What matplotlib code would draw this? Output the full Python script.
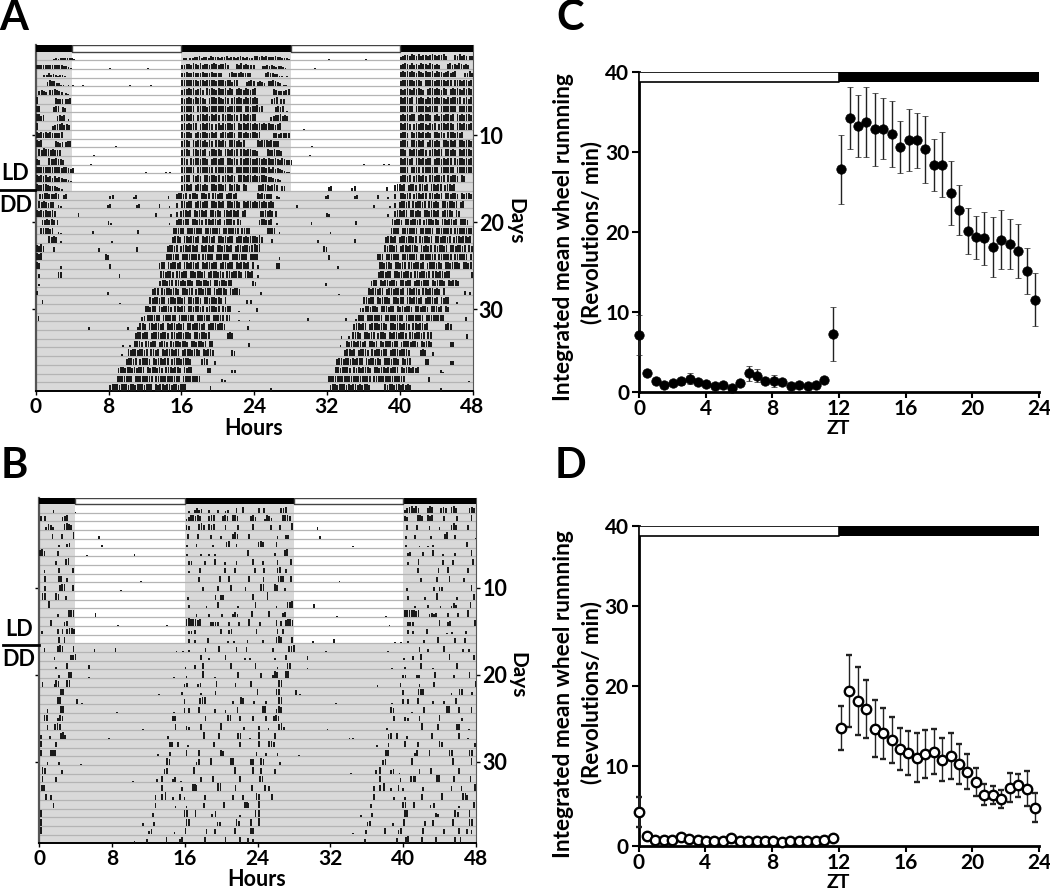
import matplotlib
matplotlib.use('Agg')
import matplotlib.pyplot as plt
import numpy as np

plt.rcParams['font.family'] = ['Lato', 'DejaVu Sans']
plt.rcParams['font.weight'] = 'bold'

FIG_W, FIG_H = 1050, 891

# activity per day: (start hour, heights in 15 min bins, 0-9 = fraction of a row)
days_a = [
    [(1.9, "1212323221"), (16.2, "22"), (16.9, "3344534435444344534434543433")],
    [(0.0, "5545454445443321"), (8.1, "1"), (12.2, "1"), (16.0, "456657657566567656675"), (22.0, "657565"), (23.6, "55")],
    [(0.85, "33534323321"), (6.6, "1"), (16.0, "567657565766576565"), (21.2, "6756576565")],
    [(1.2, "57664422"), (3.5, "201"), (5.1, "1"), (10.3, "1"), (12.6, "1"), (16.0, "7878787687687786877678578"), (23.1, "5686")],
    [(0.3, "5654"), (1.5, "667654"), (3.2, "21"), (16.0, "67787867860878768778687078768767")],
    [(0.0, "8"), (2.1, "7655"), (3.2, "567"), (16.0, "76787687876078878768707878768787")],
    [(0.0, "87"), (1.9, "678"), (2.9, "65"), (16.0, "87887808787687878787687887807868")],
    [(0.0, "8967"), (2.3, "6767"), (3.5, "2"), (16.0, "78878707887868787087887870887878")],
    [(0.0, "8"), (1.8, "567786"), (3.3, "76"), (16.0, "78787880787887078687887808787887")],
    [(0.0, "878787877678"), (5.4, "1"), (16.0, "87887078788768780788788708878778")],
    [(0.0, "878"), (2.1, "7656"), (3.2, "677"), (8.7, "1"), (16.0, "7887087887868708878708887868")],
    [(0.3, "8798878777"), (6.3, "1"), (16.0, "78870887878068878708878780887887")],
    [(0.0, "76"), (1.4, "8778776"), (6.0, "1"), (16.0, "88708788788707887880887870878887")],
    [(0.0, "78878787787687656"), (12.0, "1"), (14.2, "1"), (14.7, "1"), (16.0, "87887808878788078878788087887878")],
    [(0.0, "8787867575654321"), (16.0, "78880878708878878078878708887887")],
    [(0.0, "877887665432"), (16.0, "78878078878708878878087887087")],
    [(0.4, "778876787"), (3.0, "56"), (8.1, "45"), (10.7, "35"), (14.5, "4"), (15.4, "7887807887088780887880788780")],
    [(0.3, "8787677"), (2.4, "43"), (7.8, "45"), (11.0, "45"), (13.5, "5"), (14.6, "3"), (15.4, "6"), (16.0, "88788078878808878780887887087887")],
    [(0.0, "878787787"), (4.6, "4"), (13.1, "4"), (14.8, "3"), (15.4, "6"), (15.9, "78878087887808878708878878078")],
    [(0.65, "778787"), (2.3, "7"), (7.9, "53"), (14.6, "3"), (15.4, "78878808878708878878078887087")],
    [(0.5, "788768"), (2.4, "31"), (6.2, "4"), (11.1, "5"), (15.1, "8788708878878078887870887887808887")],
    [(1.4, "8787"), (2.7, "2"), (8.3, "2"), (15.0, "788708878878087887808878788078878788")],
    [(0.0, "8797"), (1.9, "5"), (6.9, "4"), (11.0, "5"), (14.4, "78878078878878087887808878878078878878")],
    [(0.0, "989"), (7.6, "76"), (14.3, "878878078878887087878087887808878878087")],
    [(0.0, "87"), (2.7, "4"), (8.1, "6"), (13.5, "788087887808878878087887880788788087887808")],
    [(0.3, "5"), (2.4, "77"), (9.1, "4"), (13.7, "88788708878808878878078887870887888708878")],
    [(0.3, "3"), (13.6, "78878808878788708878878088788788"), (23.8, "7")],
    [(0.05, "5"), (7.8, "4"), (12.8, "788087887887088788078878880878887087887")],
    [(0.65, "4"), (9.2, "1"), (12.5, "8788788078878878088788708878878708"), (23.1, "5"), (23.6, "4")],
    [(12.0, "88788087888708878808878878078887808788"), (22.2, "2")],
    [(0.2, "6"), (11.6, "56"), (12.2, "8878870888788087878870887887088878087"), (22.2, "1"), (23.4, "1")],
    [(5.8, "4"), (10.0, "4"), (11.1, "3"), (11.4, "88708878878087887878088788878078887887"), (23.2, "5")],
    [(10.9, "788788078887887088788788708878878"), (21.0, "787")],
    [(9.5, "3"), (10.3, "3"), (10.8, "88870887880788708788788708878878088"), (23.3, "5")],
    [(9.4, "3"), (10.1, "87887887808878087888788078887887087887"), (21.5, "76")],
    [(9.9, "78878078887087887880788878887"), (18.2, "787"), (19.6, "5")],
    [(9.0, "788788787888087887870888788708788"), (18.8, "77"), (21.5, "4"), (21.8, "4")],
    [(8.9, "8878887087878887088788787888087887878"), (20.4, "4"), (20.7, "2")],
    [(8.1, "7888788878878887888087887887887888"), (19.1, "6"), (23.5, "1")],
    [(1.8, "3"), (8.3, "788788878788787887"), (14.3, "878878878787"), (20.4, "4")],
]

days_b = [
    [(1.5, "3"), (3.9, "1"), (16.4, "2"), (17.0, "3534"), (18.6, "3"), (19.6, "3"), (20.4, "23"), (21.6, "5"), (22.3, "7")],
    [(0.1, "6060"), (2.5, "567"), (16.1, "3578686"), (18.6, "687"), (20.1, "676"), (21.2, "786"), (23.2, "675")],
    [(0.7, "3764"), (2.7, "7876"), (16.1, "65"), (17.5, "786"), (18.6, "767"), (20.4, "6"), (21.8, "6"), (23.4, "7")],
    [(1.4, "6"), (2.4, "6"), (3.7, "8"), (6.5, "3"), (16.3, "6"), (17.4, "6"), (18.8, "5"), (19.9, "3"), (21.2, "686"), (23.0, "6")],
    [(2.1, "3"), (3.0, "45"), (6.8, "3"), (16.2, "3"), (17.2, "4"), (19.0, "3"), (20.5, "68"), (21.6, "4"), (23.9, "1")],
    [(0.0, "786"), (2.0, "6"), (5.2, "1"), (10.4, "2"), (16.2, "3"), (17.7, "2"), (18.6, "2"), (19.2, "3"), (22.9, "7")],
    [(1.8, "4"), (2.9, "78"), (16.4, "45"), (18.1, "5"), (19.2, "7"), (20.3, "3"), (21.6, "4"), (23.4, "7")],
    [(0.5, "4"), (2.1, "6"), (3.6, "7"), (16.4, "3"), (17.6, "7"), (20.3, "6"), (21.4, "6"), (23.6, "7")],
    [(0.6, "7"), (2.1, "78"), (3.0, "5"), (11.1, "1"), (17.5, "6"), (19.8, "7"), (20.8, "8"), (23.0, "7")],
    [(0.55, "6"), (2.2, "788"), (3.6, "7"), (8.9, "1"), (17.9, "5"), (19.6, "6"), (21.0, "7"), (22.6, "5")],
    [(0.3, "88"), (1.8, "87"), (2.9, "4"), (16.3, "3"), (19.3, "5"), (19.9, "55"), (23.4, "7")],
    [(1.0, "9"), (16.4, "4"), (18.3, "3"), (19.6, "8"), (21.8, "3"), (23.7, "7")],
    [(2.0, "3"), (3.2, "889"), (6.1, "5"), (17.2, "3"), (18.6, "4"), (20.0, "3"), (21.2, "364"), (23.3, "7")],
    [(1.2, "7"), (2.7, "56"), (8.6, "1"), (14.0, "1"), (16.1, "8988878"), (18.8, "4545"), (20.8, "5"), (21.9, "5"), (23.0, "8")],
    [(0.2, "4"), (2.0, "7"), (2.5, "6"), (3.0, "7887"), (14.4, "1"), (16.4, "44"), (17.0, "5"), (19.9, "7"), (20.8, "56"), (23.8, "7")],
    [(2.1, "7"), (2.7, "7"), (16.4, "5"), (17.0, "4"), (18.5, "6"), (20.7, "2"), (21.3, "3"), (22.8, "4")],
    [(0.5, "4"), (2.0, "787"), (3.7, "7"), (6.0, "3"), (8.3, "5"), (15.0, "1"), (15.7, "1"), (16.4, "2"), (18.2, "4"), (19.7, "7"), (21.6, "6"), (22.7, "6")],
    [(1.6, "4"), (3.4, "778"), (7.4, "1"), (14.2, "1"), (17.7, "6"), (18.6, "3"), (20.4, "7"), (22.5, "3"), (23.1, "3")],
    [(1.8, "3"), (3.0, "7"), (5.4, "5"), (16.0, "3"), (17.0, "5"), (17.9, "8"), (21.0, "8"), (23.7, "7")],
    [(2.1, "3"), (3.2, "77"), (5.4, "1"), (14.7, "1"), (16.1, "2"), (17.9, "8"), (19.2, "1"), (21.8, "7")],
    [(0.3, "6"), (1.6, "3"), (1.8, "87"), (3.0, "88"), (15.9, "34"), (17.4, "34"), (19.4, "7"), (21.5, "4"), (23.2, "7")],
    [(2.3, "88"), (13.1, "2"), (15.6, "4"), (17.7, "3"), (19.3, "5"), (23.9, "7")],
    [(2.0, "88"), (4.1, "6"), (4.6, "1"), (15.9, "6"), (17.6, "788"), (21.2, "3"), (22.1, "87"), (23.5, "4")],
    [(0.85, "4"), (2.3, "88"), (8.5, "1"), (14.7, "1"), (15.9, "6"), (16.4, "6"), (17.5, "7"), (19.2, "4"), (20.4, "3"), (21.7, "7")],
    [(0.5, "88"), (2.0, "487"), (14.6, "76"), (16.9, "1"), (18.2, "7"), (20.7, "88"), (22.0, "7"), (23.4, "7")],
    [(0.85, "6"), (1.7, "787"), (11.3, "1"), (14.9, "7"), (16.1, "5"), (16.4, "4"), (17.7, "7"), (19.9, "8"), (22.4, "4")],
    [(0.1, "5"), (1.1, "3"), (2.3, "784"), (7.6, "1"), (14.1, "3"), (18.0, "8"), (19.7, "7"), (21.8, "77"), (23.1, "1")],
    [(0.1, "8"), (1.8, "7"), (10.0, "1"), (10.4, "1"), (14.3, "67"), (15.2, "7"), (16.3, "3"), (19.1, "7"), (22.0, "7"), (23.0, "1")],
    [(0.1, "8"), (1.2, "887"), (13.0, "3"), (14.3, "5"), (16.1, "8"), (17.5, "7"), (19.9, "86"), (23.8, "5")],
    [(0.85, "4"), (2.1, "4"), (4.5, "1"), (14.0, "87"), (17.2, "47"), (18.8, "8"), (21.0, "88"), (23.2, "77")],
    [(0.3, "87"), (2.4, "4"), (13.7, "67"), (16.9, "8"), (21.4, "8"), (23.4, "8")],
    [(0.3, "7"), (1.8, "6"), (10.2, "1"), (12.9, "4"), (13.4, "8"), (14.6, "46"), (15.5, "1"), (17.7, "6"), (19.0, "7"), (22.0, "7")],
    [(0.2, "77"), (13.4, "7"), (15.6, "5"), (16.8, "88"), (17.2, "7"), (19.6, "99"), (21.5, "7"), (23.3, "7")],
    [(0.7, "7"), (1.2, "6"), (12.7, "6"), (13.4, "7"), (13.8, "9"), (14.6, "3"), (15.4, "7"), (15.9, "3"), (18.1, "5"), (21.2, "6"), (22.3, "6"), (23.8, "87")],
    [(1.5, "7"), (12.7, "7"), (14.9, "3"), (16.1, "3"), (18.0, "7"), (20.2, "8"), (22.5, "88"), (22.9, "6")],
    [(0.1, "9"), (12.4, "5"), (15.9, "88"), (17.1, "8"), (18.9, "4"), (19.3, "7"), (22.0, "3"), (23.7, "8")],
    [(0.1, "8"), (11.3, "3"), (12.5, "5"), (16.1, "88"), (19.5, "54"), (21.6, "8"), (21.9, "6"), (23.2, "8")],
    [(0.1, "9"), (12.0, "46"), (14.8, "3"), (16.0, "8"), (18.3, "6"), (19.2, "7"), (21.4, "8"), (23.2, "88")],
    [(10.4, "2"), (11.8, "5"), (13.9, "8"), (15.4, "58"), (18.1, "8"), (20.4, "7"), (22.0, "8"), (22.9, "6"), (23.4, "5")],
    [(11.7, "5"), (15.2, "6"), (16.2, "89"), (18.0, "7"), (19.5, "7"), (21.6, "8"), (22.2, "7")],
]

ld_rows = 16
day_ticks = [10, 20, 30]
hour_ticks = [0, 8, 16, 24, 32, 40, 48]
dark_spans = [(0, 4), (16, 28), (40, 48)]
light_spans = [(4, 16), (28, 40)]

zt_c = np.arange(48) * 0.5055
mean_c = [7.1, 2.4, 1.3, 0.9, 1.15, 1.3, 1.65, 1.2, 1.0, 0.7, 0.85, 0.5,
          1.05, 2.3, 2.0, 1.3, 1.35, 1.25, 0.75, 0.85, 0.7, 0.85, 1.5, 7.2,
          27.8, 34.2, 33.2, 33.7, 32.8, 32.9, 32.25, 30.6, 31.5, 31.45, 30.3, 28.3,
          28.4, 24.8, 22.75, 20.1, 19.3, 19.2, 18.1, 19.0, 18.5, 17.6, 15.1, 11.5]
err_c = [2.5, 0.3, 0.3, 0.2, 0.2, 0.4, 0.7, 0.3, 0.3, 0.3, 0.2, 0.2,
         0.3, 0.9, 0.8, 0.3, 0.7, 0.3, 0.3, 0.3, 0.3, 0.3, 0.2, 3.35,
         4.35, 3.9, 3.85, 4.4, 4.55, 3.85, 4.1, 3.2, 3.9, 3.45, 4.15, 3.25,
         4.1, 4.0, 3.15, 2.9, 2.7, 3.3, 3.8, 3.7, 3.1, 3.35, 2.9, 3.3]

mean_d = [4.25, 1.25, 0.8, 0.75, 0.75, 1.1, 0.85, 0.8, 0.6, 0.65, 0.65, 1.0,
          0.6, 0.6, 0.6, 0.65, 0.6, 0.55, 0.6, 0.65, 0.6, 0.65, 0.75, 0.95,
          14.75, 19.3, 18.1, 17.1, 14.65, 14.05, 13.25, 12.15, 11.6, 11.05, 11.5, 11.8,
          10.8, 11.2, 10.25, 9.3, 8.0, 6.4, 6.4, 5.9, 7.3, 7.6, 7.15, 4.8]
err_d = [1.9, 0.2, 0.2, 0.2, 0.2, 0.2, 0.2, 0.2, 0.2, 0.2, 0.2, 0.2,
         0.2, 0.2, 0.2, 0.2, 0.2, 0.2, 0.2, 0.2, 0.2, 0.2, 0.2, 0.2,
         2.7, 4.5, 4.3, 3.6, 3.55, 3.15, 2.9, 2.6, 2.7, 3.05, 3.0, 2.75,
         2.7, 2.85, 2.55, 2.15, 1.8, 1.3, 1.1, 1.15, 1.8, 1.45, 2.2, 1.8]

zt_ticks = [0, 4, 8, 12, 16, 20, 24]
wheel_ticks = [0, 10, 20, 30, 40]


def px_axes(fig, left, top, right, bottom):
    return fig.add_axes([left / FIG_W, 1 - bottom / FIG_H, (right - left) / FIG_W, (bottom - top) / FIG_H])


def px_text(fig, x, y, s, size, **kw):
    fig.text(x / FIG_W, 1 - y / FIG_H, s, fontsize=size, ha=kw.pop('ha', 'center'), va=kw.pop('va', 'center'), **kw)


def draw_actogram(ax, days, bar_width):
    n_rows = len(days) - 1
    bar_top = -0.75
    for a, b in dark_spans:
        ax.fill_between([a, b], 0, ld_rows, color='#d9d9d9', lw=0, zorder=1)
    ax.fill_between([0, 48], ld_rows, n_rows, color='#d9d9d9', lw=0, zorder=1)
    ax.hlines(np.arange(1, n_rows + 1), 0, 48, color='#b4b4b4', lw=0.9, zorder=2)

    # double plot: right half of a row is the next day
    xs, hs, bs = [], [], []
    for r in range(n_rows):
        for offset, day in ((0, days[r]), (24, days[r + 1])):
            for start, heights in day:
                for i, c in enumerate(heights):
                    if c != '0':
                        xs.append(offset + start + i * 0.25)
                        hs.append(-int(c) / 10 * 0.95)
                        bs.append(r + 0.98)
    ax.bar(xs, hs, width=bar_width, bottom=bs, align='edge', color='#1a1a1a', lw=0, zorder=3)

    for a, b in dark_spans:
        ax.fill_between([a, b], bar_top, 0, color='black', lw=0, zorder=4)
    for a, b in light_spans:
        ax.fill_between([a, b], bar_top, 0, facecolor='white', edgecolor='#444444', lw=1.0, zorder=4)

    ax.set_xlim(0, 48)
    ax.set_ylim(n_rows, bar_top)
    ax.set_xticks(hour_ticks)
    ax.set_yticks([d - 0.37 for d in day_ticks])
    ax.set_yticklabels([str(d) for d in day_ticks])
    ax.tick_params(axis='x', length=3, width=1, labelsize=15, pad=1)
    ax.tick_params(axis='y', length=3, width=1, labelsize=15.5, pad=1.5, left=True, right=True,
                   labelleft=False, labelright=True)
    ax.spines['top'].set_visible(False)
    ax.spines['left'].set_linewidth(1.6)
    ax.spines['left'].set_color('#555555')
    ax.spines['right'].set_linewidth(0.8)
    ax.spines['right'].set_color('#555555')
    ax.spines['bottom'].set_linewidth(1.4)


def draw_wheel(ax, zt, mean, err, face):
    ax.errorbar(zt, mean, yerr=err, fmt='o', ms=6.8, mfc=face, mec='black',
                mew=1.7 if face == 'white' else 0.5, ecolor='#222222', elinewidth=1.0,
                capsize=2.4, capthick=1.0, clip_on=False, zorder=4)
    ax.fill_between([0, 12], 38.75, 40, facecolor='white', edgecolor='black', lw=1.2, zorder=3)
    ax.fill_between([12, 24], 38.75, 40, color='black', lw=0, zorder=3)
    ax.set_xlim(0, 24)
    ax.set_ylim(0, 40)
    ax.set_xticks(zt_ticks)
    ax.set_yticks(wheel_ticks)
    ax.tick_params(axis='x', length=4, width=1.5, labelsize=15, pad=1)
    ax.tick_params(axis='y', length=5, width=1.5, labelsize=15, pad=2)
    ax.spines['top'].set_visible(False)
    ax.spines['right'].set_visible(False)
    ax.spines['left'].set_linewidth(2.0)
    ax.spines['bottom'].set_linewidth(2.0)


fig = plt.figure(figsize=(FIG_W / 100, FIG_H / 100), dpi=100)

ax_a = px_axes(fig, 35.7, 45, 472.5, 391)
draw_actogram(ax_a, days_a, 0.2)
ax_b = px_axes(fig, 39, 497.5, 476, 843.3)
draw_actogram(ax_b, days_b, 0.19)
ax_c = px_axes(fig, 639, 71.7, 1039, 391.7)
draw_wheel(ax_c, zt_c, mean_c, err_c, 'black')
ax_d = px_axes(fig, 638.5, 525.7, 1039, 846)
draw_wheel(ax_d, zt_c, mean_d, err_d, 'white')

px_text(fig, 14, 18, 'A', 30)
px_text(fig, 14, 466, 'B', 30)
px_text(fig, 570, 18, 'C', 30)
px_text(fig, 570, 466, 'D', 30)

px_text(fig, 15, 174, 'LD', 15.5)
px_text(fig, 16, 205, 'DD', 15.5)
px_text(fig, 19, 629, 'LD', 15.5)
px_text(fig, 19, 660, 'DD', 15.5)
fig.add_artist(plt.Line2D([0, 35 / FIG_W], [1 - 190 / FIG_H] * 2, color='black', lw=2.0))
fig.add_artist(plt.Line2D([3 / FIG_W, 39 / FIG_W], [1 - 644.5 / FIG_H] * 2, color='black', lw=2.0))

px_text(fig, 254, 428, 'Hours', 15.5)
px_text(fig, 257, 880, 'Hours', 15.5)
px_text(fig, 515, 221, 'Days', 15, rotation=270)
px_text(fig, 517, 675, 'Days', 15, rotation=270)
px_text(fig, 838, 428, 'ZT', 14)
px_text(fig, 838, 883, 'ZT', 14)

px_text(fig, 563, 237, 'Integrated mean wheel runnning', 16.4, rotation=90)
px_text(fig, 592, 233, '(Revolutions/ min)', 16, rotation=90)
px_text(fig, 563, 694, 'Integrated mean wheel runnning', 16.4, rotation=90)
px_text(fig, 592, 692, '(Revolutions/ min)', 16, rotation=90)

fig.savefig('out.png', dpi=100)
